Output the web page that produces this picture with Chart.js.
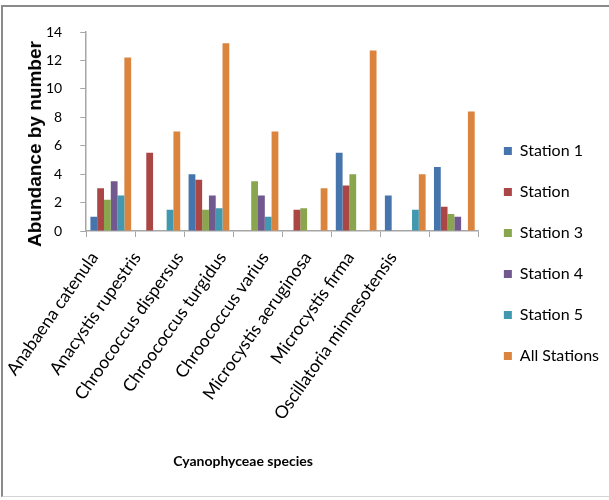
<!DOCTYPE html>
<html>
<head>
<meta charset="utf-8">
<script src="https://cdn.jsdelivr.net/npm/chart.js@4"></script>
<style>
  html, body { margin: 0; padding: 0; background: #fff; }
  .frame {
    position: absolute; left: 1px; top: 5px; width: 608px; height: 492px;
    border-top: 2px solid #8a8a8a; border-left: 2px solid #8a8a8a; border-bottom: 1px solid #d4d4d4;
    box-sizing: border-box;
  }
  .wrap { position: absolute; left: 0; top: 0; width: 609px; height: 500px; }
  .ytitle {
    position: absolute; left: 35px; top: 144px; white-space: nowrap;
    font: bold 19px "Liberation Sans", Arial, sans-serif; color: #000;
    transform: translate(-50%, -50%) rotate(-90deg);
  }
  .xtitle {
    position: absolute; left: 243px; top: 460px; white-space: nowrap;
    font: bold 14px Lato, sans-serif; color: #000;
    transform: translate(-50%, -50%);
  }
</style>
</head>
<body>
<div class="frame"></div>
<div class="wrap">
  <canvas id="speciesChart" width="609" height="500"></canvas>
</div>
<div class="ytitle">Abundance by number</div>
<div class="xtitle">Cyanophyceae species</div>
<script type="text/javascript">
  const species = [
    "Anabaena catenula", "Anacystis rupestris", "Chroococcus dispersus", "Chroococcus turgidus",
    "Chroococcus varius", "Microcystis aeruginosa", "Microcystis firma", "Oscillatoria minnesotensis"
  ];
  const station1 = [1, null, 4, null, null, 5.5, 2.5, 4.5];
  const station2 = [3, 5.5, 3.6, null, 1.5, 3.2, null, 1.7];
  const station3 = [2.2, null, 1.5, 3.5, 1.6, 4, null, 1.2];
  const station4 = [3.5, null, 2.5, 2.5, null, null, null, 1];
  const station5 = [2.5, 1.5, 1.6, 1, null, null, 1.5, null];
  const allStations = [12.2, 7, 13.2, 7, 3, 12.7, 4, 8.4];
  const yTicks = [0, 2, 4, 6, 8, 10, 12, 14];

  const labelFont = "Lato, sans-serif";

  function bars(label, data, color) {
    return { label: label, data: data, backgroundColor: color, borderWidth: 0 };
  }

  // slanted names may hang past the left edge of the plot; don't let them widen the margin
  function noEdgePadding(scale) {
    scale.paddingLeft = 0;
    scale.paddingRight = 0;
    scale.getPadding = () => ({ left: 0, top: 0, right: 0, bottom: 0 });
  }

  new Chart("speciesChart", {
    type: "bar",
    data: {
      labels: species,
      datasets: [
        bars("Station 1", station1, "#4674ac"),
        bars("Station", station2, "#aa4643"),
        bars("Station 3", station3, "#89a54e"),
        bars("Station 4", station4, "#71588f"),
        bars("Station 5", station5, "#4198af"),
        bars("All Stations", allStations, "#db843d")
      ]
    },
    options: {
      responsive: false,
      animation: false,
      layout: { padding: { top: 32, left: 28, right: 0, bottom: 25 } },
      datasets: { bar: { categoryPercentage: 0.83, barPercentage: 1 } },
      plugins: {
        legend: {
          display: true,
          position: "right",
          labels: {
            boxWidth: 8,
            boxHeight: 8,
            padding: 25,
            color: "#000",
            font: { family: labelFont, size: 16 }
          }
        },
        tooltip: { enabled: false }
      },
      scales: {
        // category axis carrying the bars and the tick marks between species
        x: {
          border: { color: "#a6a6a6", width: 1.5 },
          grid: { offset: true, drawOnChartArea: false, tickLength: 6, color: "#a6a6a6" },
          ticks: { display: false },
          afterFit: function (scale) {
            scale.height = 6;
            noEdgePadding(scale);
          }
        },
        // species names, slanted, on their own slightly tighter spacing
        xNames: {
          type: "linear",
          position: "bottom",
          offset: false,
          min: -0.19,
          max: 9.01,
          border: { display: false },
          grid: { display: false },
          afterBuildTicks: function (scale) { scale.ticks = species.map((s, i) => ({ value: i })); },
          ticks: {
            autoSkip: false,
            minRotation: 55,
            maxRotation: 55,
            padding: 3,
            color: "#000",
            font: { family: labelFont, size: 17.5 },
            callback: function (value) { return species[value]; }
          },
          afterFit: function (scale) {
            scale.height = 238;
            noEdgePadding(scale);
          }
        },
        y: {
          min: 0,
          max: 14,
          border: { color: "#a6a6a6", width: 1.5 },
          grid: { drawOnChartArea: false, tickLength: 6, color: "#a6a6a6" },
          afterBuildTicks: function (scale) { scale.ticks = yTicks.map(v => ({ value: v })); },
          ticks: {
            padding: 18,
            color: "#000",
            font: { family: labelFont, size: 14 }
          }
        }
      }
    }
  });
</script>
</body>
</html>
